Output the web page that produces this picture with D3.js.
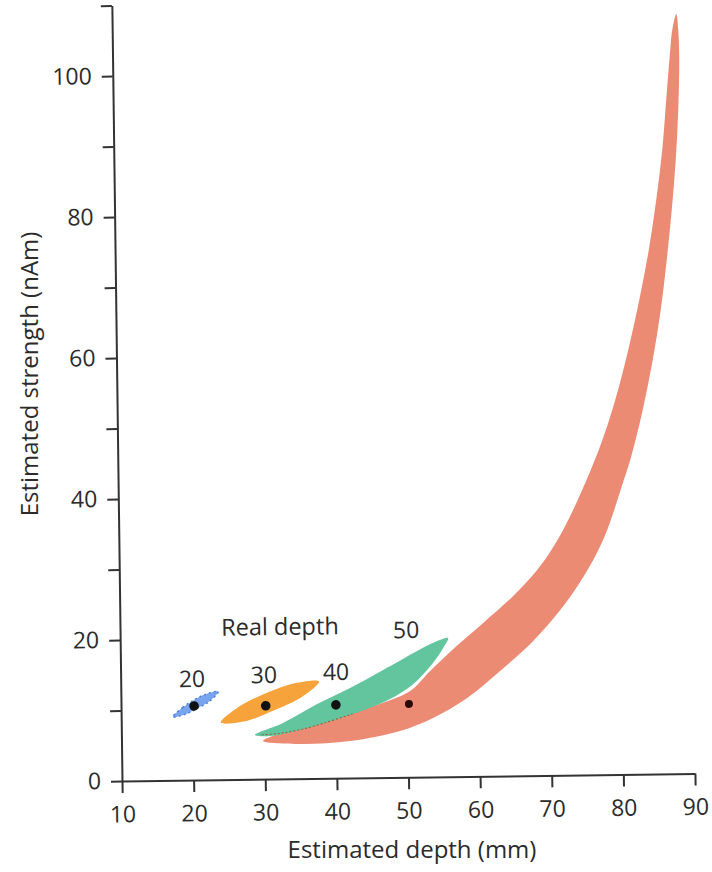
<!DOCTYPE html>
<html><head><meta charset="utf-8">
<script src="https://cdn.jsdelivr.net/npm/d3@7"></script>
<style>
body{margin:0;background:#fff}
svg{display:block}
text{font-family:"Open Sans",sans-serif;fill:#2b2b2b}
</style>
</head><body>
<svg id="c" width="712" height="872"></svg>
<script>
// ---- data ----
const xTicks = [10,20,30,40,50,60,70,80,90];
const yTicks = [0,10,20,30,40,50,60,70,80,90,100,110];
const yLabeled = [0,20,40,60,80,100];
const realDepths = [20,30,40,50];
const dotX = [20.2,30.2,40.0,50.2];
const dotY = [10.5,10.4,10.4,10.4];
const labelX = [19.95,30.0,40.07,49.93];
const labelY = [13.2,13.64,13.93,19.76];
const regionColors = ["#79a4ee","#f6a33c","#63c59e","#ec8b74"];
// region outlines (estimated depth mm, estimated strength nAm)
const region20 = [[17.2,9.0],[18.6,10.3],[20.1,11.3],[21.7,12.1],[23.6,12.5],[22.3,11.1],[20.7,10.2],[19.1,9.4]];
const region30 = [[23.9,8.1],[26.3,10.2],[30.3,12.2],[34.6,13.6],[37.7,13.75],[35.3,11.6],[31.3,9.7],[27.1,8.2]];
const region40 = [[28.66,6.28],[32.59,7.93],[37.38,10.56],[42.01,12.77],[46.66,15.26],[51.44,17.89],[54.25,19.27],[55.79,19.68],
                  [55.08,18.27],[53.51,16.02],[50.68,13.08],[47.58,11.13],[44.35,9.76],[39.86,8.26],[34.95,6.90],[30.75,6.11]];
const region50 = [[29.77,5.41],[34.93,4.92],[41.92,5.25],[48.92,6.58],[53.55,8.36],[58.34,11.13],[62.99,14.90],[67.66,19.10],
                  [71.49,23.44],[74.05,26.95],[76.19,30.47],[77.91,34.00],[79.21,37.52],[80.37,41.06],[81.54,44.59],
                  [83.37,51.66],[84.86,58.73],[86.07,65.81],[87.00,72.89],[87.79,79.97],[88.44,87.06],[88.88,94.14],
                  [89.11,101.23],[89.03,105.49],[88.78,107.76],
                  [88.19,105.50],[87.87,102.67],[87.22,95.58],[86.57,88.50],[85.64,81.42],[84.51,74.34],[83.09,67.27],
                  [81.46,60.19],[79.55,53.13],[77.16,46.07],[72.34,35.35],[69.20,30.28],[65.51,26.07],
                  [60.71,21.74],[56.33,17.97],[53.22,15.03],[50.39,12.23],[46.88,10.72],[40.57,8.9],[34.95,7.1],[30.75,5.97]];
const boundary = [[29.6,6.3],[32.0,6.45],[34.95,6.95],[38.5,7.9],[42.3,9.1]];
const regions = [region20, region30, region40, region50];

// ---- chart ----
const svg = d3.select("#c");
const x = d3.scaleLinear().domain([10,90]).range([0,573]);
const y = d3.scaleLinear().domain([0,110]).range([0,-775.5]);

const g = svg.append("g").attr("transform","translate(122,781) rotate(-0.75)");

const area = d3.line().x(d=>x(d[0])).y(d=>y(d[1])).curve(d3.curveCatmullRomClosed.alpha(0.5));
const open = d3.line().x(d=>x(d[0])).y(d=>y(d[1])).curve(d3.curveCatmullRom.alpha(0.5));

// draw order: red, orange, green, blue
[3,1,2,0].forEach(i=>{
  g.append("path").attr("d", area(regions[i]))
    .attr("fill", regionColors[i])
    .attr("stroke", i===0 ? "#4d7fe0" : "none")
    .attr("stroke-width", i===0 ? 1.5 : 0)
    .attr("stroke-dasharray", i===0 ? "2 3" : null);
});
g.append("path").attr("d", open(boundary)).attr("fill","none")
  .attr("stroke","#9a5a35").attr("stroke-width",1).attr("stroke-dasharray","2 2");

// dots
g.selectAll("circle.dot").data(realDepths).join("circle")
  .attr("class","dot")
  .attr("cx",(d,i)=>x(dotX[i])).attr("cy",(d,i)=>y(dotY[i]))
  .attr("r",(d,i)=> i===3 ? 4 : 4.8)
  .attr("fill",(d,i)=> i===3 ? "#2a0806" : "#111");

// labels
g.selectAll("text.rd").data(realDepths).join("text")
  .attr("class","rd")
  .attr("x",(d,i)=>x(labelX[i])).attr("y",(d,i)=>y(labelY[i]))
  .attr("text-anchor","middle").style("font-size","23px")
  .text(d=>d);
g.append("text").attr("x",x(32.33)).attr("y",y(20.42)).attr("text-anchor","middle")
  .style("font-size","23.5px").text("Real depth");

// axes
const xAxis = d3.axisBottom(x).tickValues(xTicks).tickSize(12).tickPadding(13).tickSizeOuter(0);
const yAxis = d3.axisLeft(y).tickValues(yTicks).tickSize(11).tickPadding(10).tickSizeOuter(0)
  .tickFormat(d => yLabeled.includes(d) ? d : "");
const gx = g.append("g").call(xAxis);
const gy = g.append("g").call(yAxis);
[gx,gy].forEach(a=>{
  a.select(".domain").attr("stroke","#333").attr("stroke-width",2);
  a.selectAll(".tick line").attr("stroke","#333").attr("stroke-width",2);
  a.selectAll(".tick text").style("font-size","23px").attr("fill","#2b2b2b").style("font-family",'"Open Sans",sans-serif');
});

// titles
svg.append("text").attr("x",412).attr("y",858).attr("text-anchor","middle")
  .style("font-size","24px").text("Estimated depth (mm)");
svg.append("text").attr("transform","translate(38,374) rotate(-90)").attr("text-anchor","middle")
  .style("font-size","24px").text("Estimated strength (nAm)");
</script>
</body></html>
